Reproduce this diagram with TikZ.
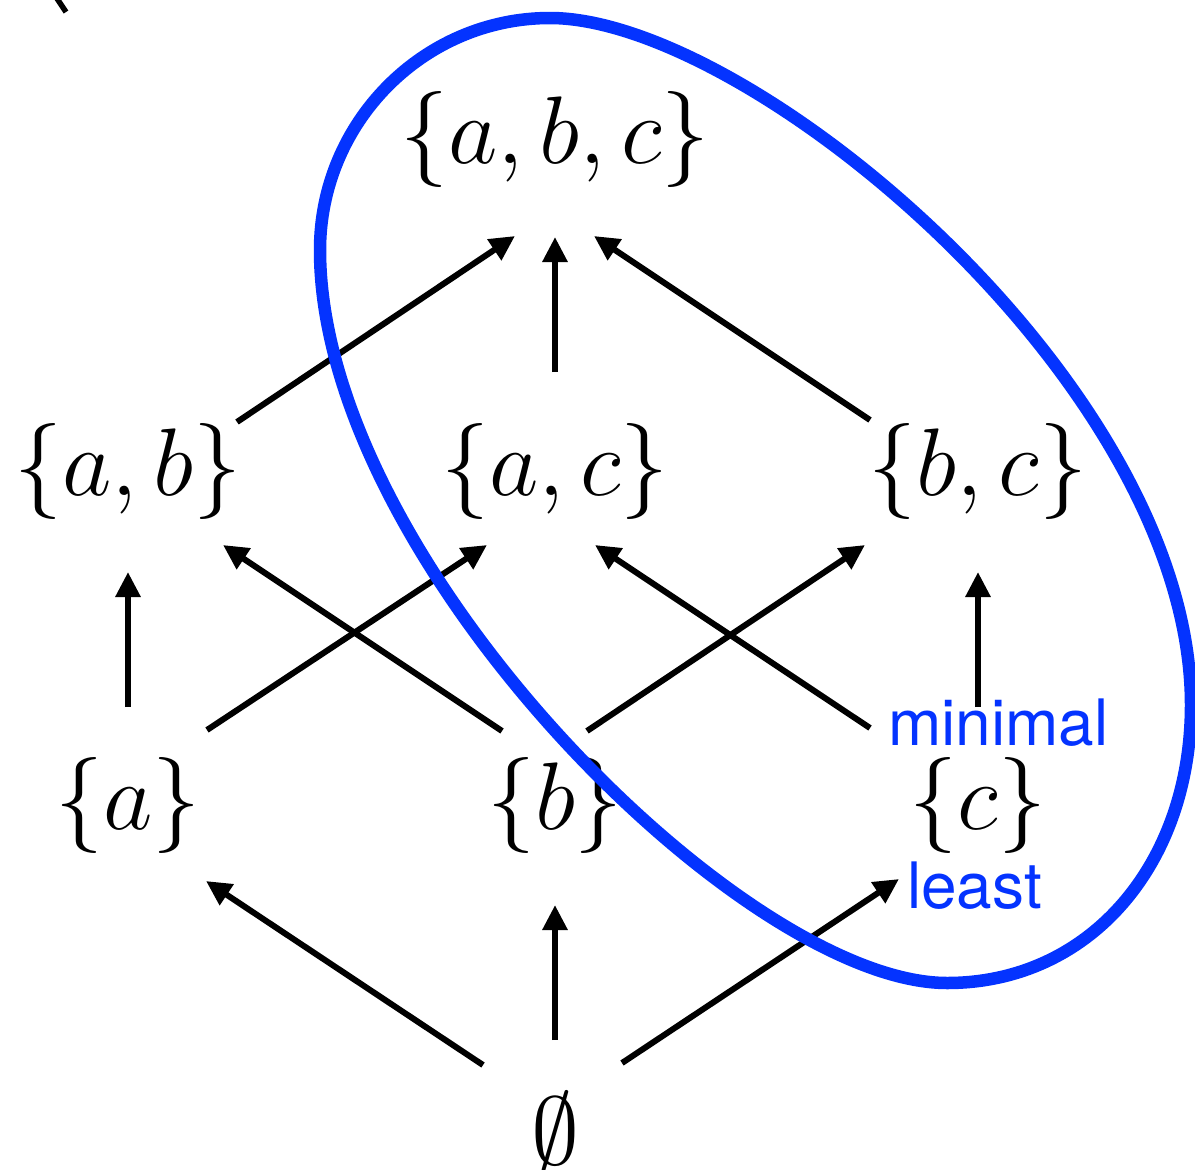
\documentclass[tikz,border=0pt]{standalone}
\usepackage{fix-cm}
\usepackage{fontspec}
\newfontfamily\helv{TeX Gyre Heros}
\usetikzlibrary{arrows.meta,calc}
\definecolor{keyblue}{RGB}{4,51,255}
\tikzset{
  setnode/.style={inner sep=0pt, font=\fontsize{96}{110}\selectfont},
  lbl/.style={inner sep=0pt, anchor=base west, text=keyblue, font=\helv\fontsize{64}{70}\selectfont},
  arr/.style={line width=6pt, -{Triangle[length=25pt,width=24pt]}},
  ring/.style={draw=keyblue, line width=12.5pt}
}
\begin{document}
\begin{tikzpicture}[x=1pt,y=-1pt]
\useasboundingbox (0,0) rectangle (1195,1170);
% fragment at top left
\draw[line width=5.5pt] (56,-3) -- (66,12);
% nodes
\node[setnode] (abc) at (555,139) {$\{a,b,c\}$};
\node[setnode] (ab)  at (128,471) {$\{a,b\}$};
\node[setnode] (ac)  at (555,471) {$\{a,c\}$};
\node[setnode] (bc)  at (978,471) {$\{b,c\}$};
\node[setnode] (a)   at (128,805) {$\{a\}$};
\node[setnode] (b)   at (555,805) {$\{b\}$};
\node[setnode] (c)   at (978,805) {$\{c\}$};
\node[setnode, anchor=base] (e) at (555,1164) {$\emptyset$};
% labels
\node[lbl] (minimal) at (888,745) {minimal};
\node[lbl] (least) at (907,908) {least};
% arrows
\draw[arr] ($(ab)+(109,-49)$) -- ($(abc)+(-40,97)$);
\draw[arr] ($(ac)+(0,-99)$) -- ($(abc)+(0,98)$);
\draw[arr] ($(bc)+(-108,-51)$) -- ($(abc)+(39,97)$);
\draw[arr] ($(a)+(0,-98)$) -- ($(ab)+(0,101)$);
\draw[arr] ($(a)+(79,-75)$) -- ($(ac)+(-68,74)$);
\draw[arr] ($(b)+(-53,-74)$) -- ($(ab)+(95,74)$);
\draw[arr] ($(b)+(32,-74)$) -- ($(bc)+(-113,74)$);
\draw[arr] ($(c)+(-108,-77)$) -- ($(ac)+(40,74)$);
\draw[arr] ($(c)+(0,-98)$) -- ($(bc)+(0,101)$);
\draw[arr] ($(e.base)+(-72,-99)$) -- ($(a)+(78,76)$);
\draw[arr] ($(e.base)+(0,-124)$) -- ($(b)+(0,100)$);
\draw[arr] ($(e.base)+(67,-101)$) -- ($(c)+(-79,74)$);
% loop
\draw[ring] (320,250) .. controls (320,123) and (423,18) .. (550,18)
  .. controls (750,18) and (1191,384) .. (1191,705)
  .. controls (1191,864) and (1090,983) .. (947,983)
  .. controls (742.5,983) and (320,560) .. cycle;
\end{tikzpicture}
\end{document}
